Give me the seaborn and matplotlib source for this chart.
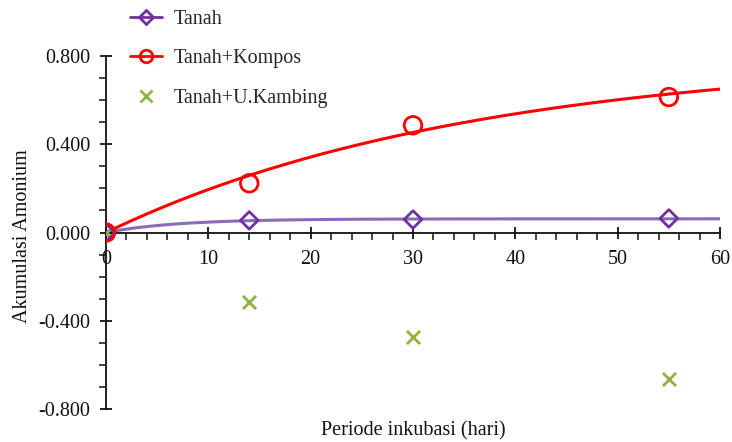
import numpy as np
import pandas as pd
import matplotlib
matplotlib.use("Agg")
import matplotlib.pyplot as plt
from matplotlib.lines import Line2D
from matplotlib.ticker import MultipleLocator, FormatStrFormatter
import seaborn as sns

# Measured ammonium accumulation per incubation day
days = [0, 14, 30, 55]
tanah = [0.000, 0.055, 0.059, 0.064]
kompos = [0.000, 0.223, 0.486, 0.614]
kambing = [0.000, -0.314, -0.473, -0.664]

# Fitted first-order model parameters: A * (1 - exp(-k t))
tanah_fit = {"A": 0.062, "k": 0.143}
kompos_fit = {"A": 0.800, "k": 0.0279}

labels = ["Tanah", "Tanah+Kompos", "Tanah+U.Kambing"]
c_tanah_line = "#8A6BB8"
c_tanah_mark = "#7030A0"
c_kompos = "#FF0000"
c_kambing = "#8DB53C"

sns.set_theme(style="white")
plt.rcParams["font.family"] = ["Liberation Serif", "DejaVu Serif"]
plt.rcParams["font.size"] = 14.5

fig = plt.figure(figsize=(7.32, 4.42), dpi=100)
ax = fig.add_axes([106 / 732, 33 / 442, 614 / 732, 353 / 442])

t = np.linspace(0, 60, 300)
curves = pd.DataFrame({
    "t": np.concatenate([t, t]),
    "y": np.concatenate([
        tanah_fit["A"] * (1 - np.exp(-tanah_fit["k"] * t)),
        kompos_fit["A"] * (1 - np.exp(-kompos_fit["k"] * t)),
    ]),
    "seri": [labels[0]] * len(t) + [labels[1]] * len(t),
})
sns.lineplot(data=curves, x="t", y="y", hue="seri",
             palette={labels[0]: c_tanah_line, labels[1]: c_kompos},
             linewidth=2.2, legend=False, ax=ax, zorder=2)

pts = pd.DataFrame({"hari": days, "Tanah": tanah,
                    "Kompos": kompos, "Kambing": kambing})
sns.scatterplot(data=pts, x="hari", y="Kambing", marker="x", s=90,
                color=c_kambing, linewidth=2.0, ax=ax, zorder=3)
sns.scatterplot(data=pts, x="hari", y="Tanah", marker="D", s=80,
                facecolor="none", edgecolor=c_tanah_mark, linewidth=2.0,
                ax=ax, zorder=4)
sns.scatterplot(data=pts, x="hari", y="Kompos", marker="o", s=160,
                facecolor="none", edgecolor=c_kompos, linewidth=2.0,
                ax=ax, zorder=5)

ax.set_xlim(0, 60)
ax.set_ylim(-0.8, 0.8)
ax.spines["top"].set_visible(False)
ax.spines["right"].set_visible(False)
ax.spines["bottom"].set_position(("data", 0))
for s in ("left", "bottom"):
    ax.spines[s].set_color("#111111")
    ax.spines[s].set_linewidth(1.3)

ax.xaxis.set_major_locator(MultipleLocator(10))
ax.xaxis.set_minor_locator(MultipleLocator(2))
ax.yaxis.set_major_locator(MultipleLocator(0.4))
ax.yaxis.set_minor_locator(MultipleLocator(0.1))
ax.yaxis.set_major_formatter(FormatStrFormatter("%.3f"))
ax.tick_params(which="major", direction="inout", length=9, width=1.3,
               color="#111111", labelsize=14.5, labelcolor="#111111")
ax.tick_params(axis="x", which="major", pad=8)
ax.tick_params(axis="y", which="major", pad=7)
ax.tick_params(which="minor", direction="out", length=5, width=1.1,
               color="#111111")
ax.tick_params(axis="both", which="both", bottom=True, left=True)

ax.set_xlabel("Periode inkubasi (hari)", fontsize=14.5, color="#111111")
ax.set_ylabel("Akumulasi Amonium", fontsize=14.5, color="#111111")
ax.xaxis.set_label_coords(0.5, -0.035)
ax.yaxis.set_label_coords(-0.121, 0.49)
ax.grid(False)

handles = [
    Line2D([], [], color=c_tanah_mark, lw=2.0, marker="D", ms=7,
           mfc="none", mec=c_tanah_mark, mew=2.0),
    Line2D([], [], color=c_kompos, lw=2.0, marker="o", ms=9,
           mfc="none", mec=c_kompos, mew=2.0),
    Line2D([], [], color=c_kambing, lw=0, marker="x", ms=8, mew=2.0),
]
fig.legend(handles, labels, loc="upper left",
           bbox_to_anchor=(122 / 732, 1 - 2 / 442), frameon=False,
           fontsize=14.5, handlelength=1.6, handletextpad=0.55,
           labelspacing=1.0, borderaxespad=0)

fig.savefig("out.png", dpi=100)
